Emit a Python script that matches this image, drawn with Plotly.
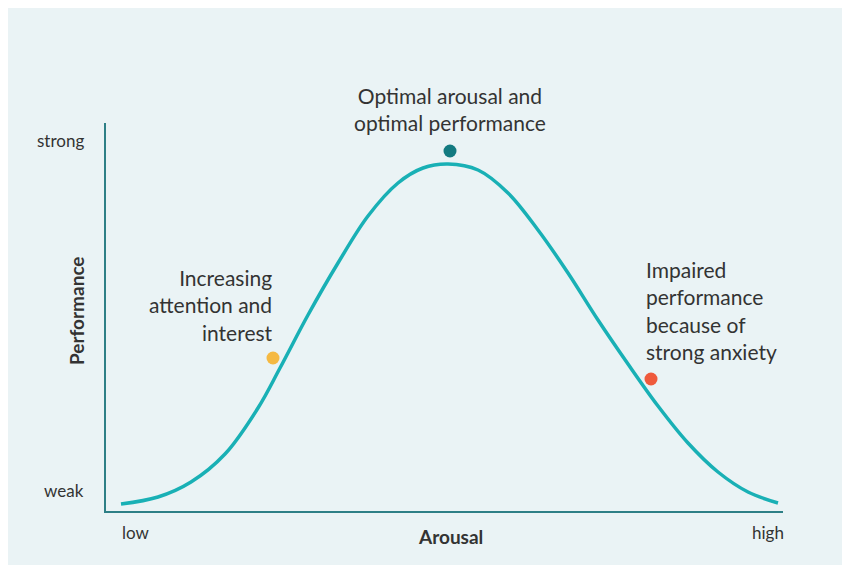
import plotly.graph_objects as go

# curve (x = arousal in px units, perf = height above the x axis)
arousal = [113, 150, 183, 217, 250, 272, 300, 330, 360, 390, 415, 440,
           470, 500, 530, 560, 590, 620, 650, 680, 710, 740, 770]
curve_py = [496, 489, 474, 446, 400, 360, 307, 255, 208, 175, 160, 156,
            162, 185, 222, 265, 312, 356, 398, 435, 464, 484, 495]
BASE = 503
performance = [BASE - v for v in curve_py]

dot_x = [265, 442, 643]
dot_perf = [BASE - 350, BASE - 143, BASE - 371]
dot_colors = ["#f5b942", "#137a80", "#ef5a3c"]

TXT = "#333333"
AX = "#2e7f86"
L, R, T = 98, 775, 115

fig = go.Figure()
fig.add_trace(go.Scatter(x=arousal, y=performance, mode="lines",
                         line=dict(color="#19b0b5", width=3.5, shape="spline"),
                         hoverinfo="skip"))
fig.add_trace(go.Scatter(x=dot_x, y=dot_perf, mode="markers",
                         marker=dict(color=dot_colors, size=13), hoverinfo="skip"))

def note(x, y, text, anchor="center", size=21, bold=False, angle=0):
    fig.add_annotation(x=(x - L) / (R - L), y=(BASE - y) / (BASE - T), xref="paper", yref="paper",
                       text=f"<b>{text}</b>" if bold else text,
                       showarrow=False, xanchor=anchor, yanchor="middle",
                       align=anchor if anchor != "center" else "center",
                       textangle=angle, font=dict(size=size, color=TXT, family="Lato"))

note(442, 101, "Optimal arousal and<br>optimal performance")
note(267, 297, "Increasing<br>attention and<br>interest", anchor="right")
note(636, 302, "Impaired<br>performance<br>because of<br>strong anxiety", anchor="left")
note(78, 133, "strong", anchor="right", size=17)
note(78, 482, "weak", anchor="right", size=17)
note(112, 524, "low", anchor="left", size=17)
note(778, 524, "high", anchor="right", size=17)
note(442, 528, "Arousal", size=19, bold=True)
note(68, 303, "Performance", size=19, bold=True, angle=-90)

fig.update_xaxes(range=[L, R], showline=True, linecolor=AX, linewidth=2,
                 showgrid=False, zeroline=False, showticklabels=False, ticks="")
fig.update_yaxes(range=[0, BASE - T], showline=True, linecolor=AX, linewidth=2,
                 showgrid=False, zeroline=False, showticklabels=False, ticks="")
fig.update_layout(width=850, height=565, showlegend=False,
                  margin=dict(l=L, r=850 - R, t=T, b=565 - BASE),
                  paper_bgcolor="#eaf3f5", plot_bgcolor="#eaf3f5")
fig.write_html("out.html")
